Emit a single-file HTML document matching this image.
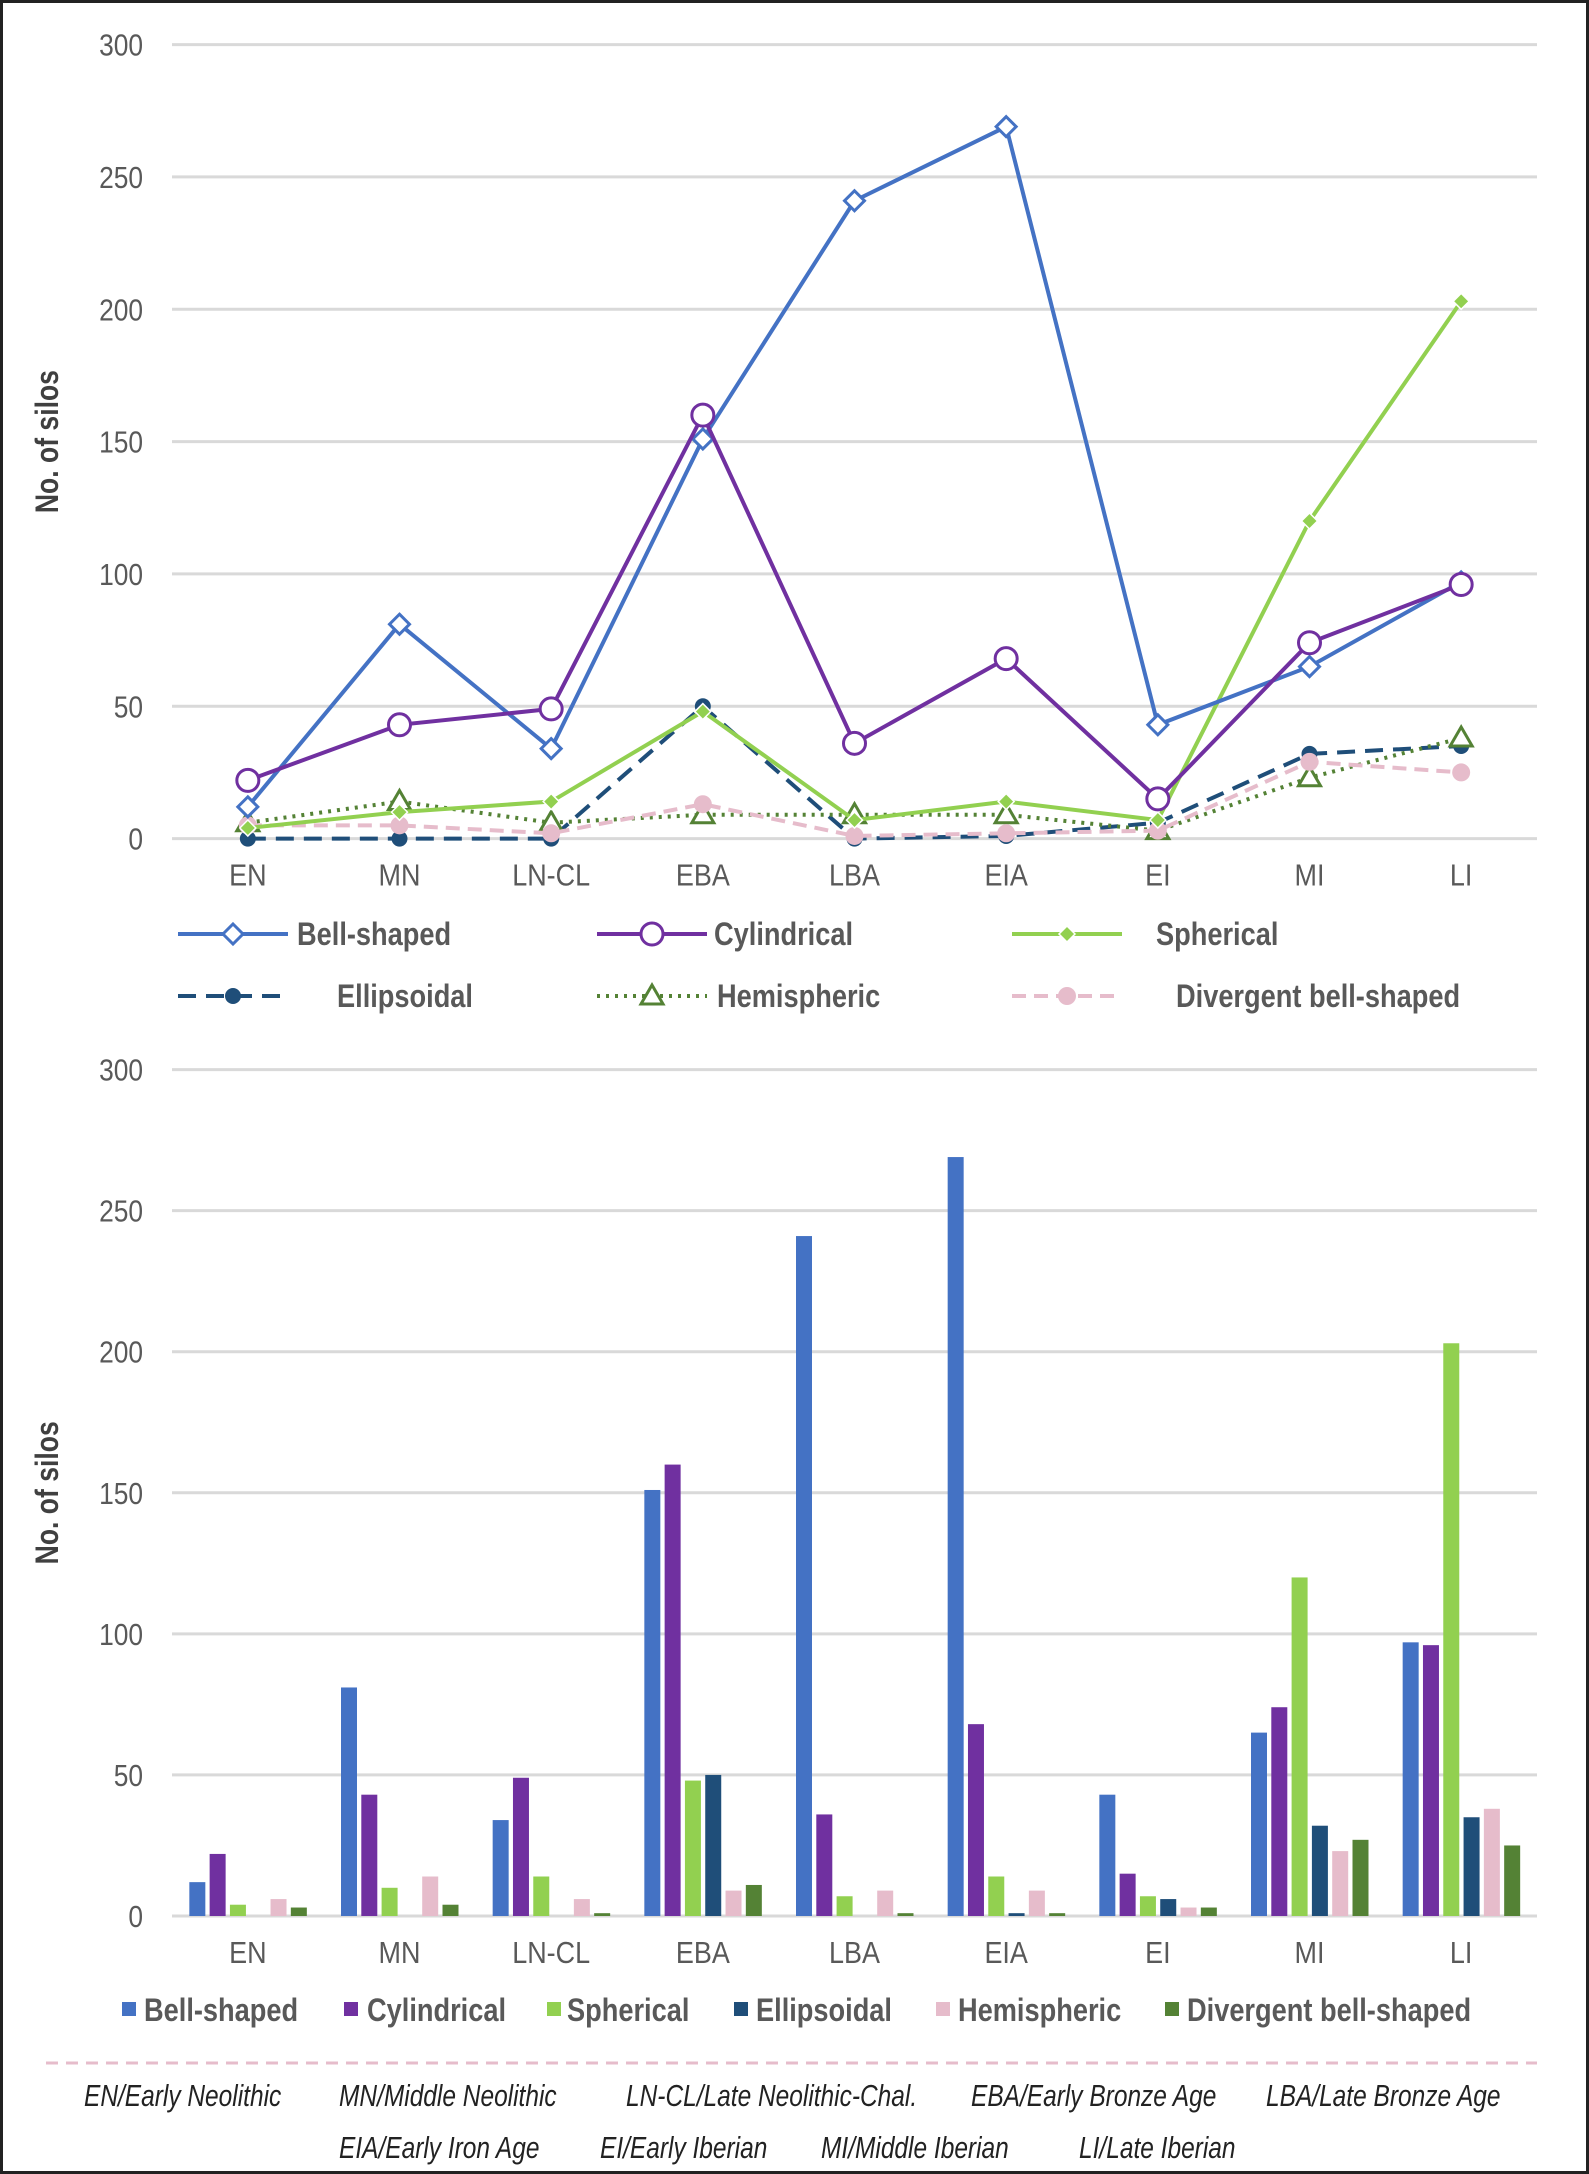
<!DOCTYPE html>
<html><head><meta charset="utf-8"><style>
html,body{margin:0;padding:0;background:#fff}
body{width:1589px;height:2174px;overflow:hidden;position:relative}
svg{position:absolute;left:0;top:0}
text{font-family:"Liberation Sans Narrow","Liberation Sans",sans-serif}
</style></head><body>
<svg id="chart" width="1589" height="2174" viewBox="0 0 1589 2174" xmlns="http://www.w3.org/2000/svg">
<rect x="1.5" y="1.5" width="1586" height="2171" fill="#fff" stroke="#222" stroke-width="3"/>
<g id="topChart"></g><g id="bottomChart"></g><g id="footNotes"></g>
</svg>
<script>
const categories=["EN","MN","LN-CL","EBA","LBA","EIA","EI","MI","LI"];
const yTicks=[0,50,100,150,200,250,300];
const bellShaped=[12,81,34,151,241,269,43,65,97];
const cylindrical=[22,43,49,160,36,68,15,74,96];
const spherical=[4,10,14,48,7,14,7,120,203];
const ellipsoidal=[0,0,0,50,0,1,6,32,35];
const hemispheric=[6,14,6,9,9,9,3,23,38];
const divergent=[3,4,1,11,1,1,3,27,25];
const lineDivergent=[5,5,2,13,1,2,3,29,25];
const seriesNames=["Bell-shaped","Cylindrical","Spherical","Ellipsoidal","Hemispheric","Divergent bell-shaped"];
const colors=["#4472C4","#7030A0","#92D050","#1F4E79","#E6BCCB","#548235"];

(function(){
const NS="http://www.w3.org/2000/svg";
function mk(p,tag,a,txt){const e=document.createElementNS(NS,tag);for(const k in a)e.setAttribute(k,a[k]);if(txt!==undefined)e.textContent=txt;p.appendChild(e);return e;}
function T(p,x,y,str,a,sx,rot){
  const o=Object.assign({x:0,y:0,transform:`translate(${x},${y})`+(rot?` rotate(${rot})`:'')+` scale(${sx},1)`},a);
  return mk(p,"text",o,str);
}
const X0=172,X1=1537,cw=(X1-X0)/categories.length;
const xc=i=>X0+cw*(i+0.5);

function axes(g,y0,y300){
  const ys=v=>y0-(v/300)*(y0-y300);
  yTicks.forEach(t=>{
    const l=mk(g,"line",{x1:X0,x2:X1,y1:ys(t),y2:ys(t),stroke:"#d9d9d9","stroke-width":3});
    
    
    const tx=T(g,143,ys(t)+11,String(t),{"text-anchor":"end","font-size":31,fill:"#595959"},0.85);
    
    
  });
  categories.forEach((c,i)=>{
    const tx=T(g,xc(i),y0+47,c,{"text-anchor":"middle","font-size":31,fill:"#595959"},0.87);
    
    
  });
  const cy=(y0+y300)/2;
  const t=T(g,58,cy,"No. of silos",{"text-anchor":"middle","font-size":32,"font-weight":"bold",fill:"#404040"},0.83,-90);
  
  
  return ys;
}

function marker(g,type,x,y,col){
  let e;
  if(type==="diamond") e=mk(g,"path",{d:`M${x} ${y-10}L${x+10} ${y}L${x} ${y+10}L${x-10} ${y}Z`,fill:"#fff",stroke:col,"stroke-width":3});
  else if(type==="circle") e=mk(g,"circle",{cx:x,cy:y,r:11,fill:"#fff",stroke:col,"stroke-width":3});
  else if(type==="sdiamond") e=mk(g,"path",{d:`M${x} ${y-8}L${x+8} ${y}L${x} ${y+8}L${x-8} ${y}Z`,fill:col,stroke:"#fff","stroke-width":1.5});
  else if(type==="dot") e=mk(g,"circle",{cx:x,cy:y,r:8,fill:col});
  else if(type==="tri") e=mk(g,"path",{d:`M${x} ${y-11}L${x+11} ${y+8}L${x-11} ${y+8}Z`,fill:"#fff",stroke:col,"stroke-width":3});
  else e=mk(g,"circle",{cx:x,cy:y,r:9,fill:col});
  
  
}

const topG=document.getElementById("topChart");
const ysT=axes(topG,838.6,44.6);
const lineSeries=[
 {d:bellShaped,c:"#4472C4",m:"diamond",dash:""},
 {d:cylindrical,c:"#7030A0",m:"circle",dash:""},
 {d:spherical,c:"#92D050",m:"sdiamond",dash:""},
 {d:ellipsoidal,c:"#1F4E79",m:"dot",dash:"18 10"},
 {d:hemispheric,c:"#548235",m:"tri",dash:"3 6"},
 {d:lineDivergent,c:"#E6BCCB",m:"pdot",dash:"14 8"}
];
[3,4,5,2,0,1].forEach(k=>{
  const s=lineSeries[k];
  const pts=s.d.map((v,i)=>xc(i)+","+ysT(v)).join(" ");
  const pl=mk(topG,"polyline",{points:pts,fill:"none",stroke:s.c,"stroke-width":4,"stroke-dasharray":s.dash});
  
  
  s.d.forEach((v,i)=>marker(topG,s.m,xc(i),ysT(v),s.c));
});
const legPos=[[178,934,297],[597,934,714],[1012,934,1156],[178,996,337],[597,996,717],[1012,996,1176]];
legPos.forEach((p,k)=>{
  const s=lineSeries[k];
  const g=mk(topG,"g",{});
  
  
  mk(g,"line",{x1:p[0],x2:p[0]+110,y1:p[1],y2:p[1],stroke:s.c,"stroke-width":4,"stroke-dasharray":s.dash});
  marker(g,s.m,p[0]+55,p[1],s.c);
  T(g,p[2],p[1]+11,seriesNames[k],{"font-size":32,"font-weight":"bold",fill:"#595959"},0.85);
});

const botG=document.getElementById("bottomChart");
const ysB=axes(botG,1916,1069.6);
const barSeries=[bellShaped,cylindrical,spherical,ellipsoidal,hemispheric,divergent];
barSeries.forEach((arr,k)=>{
  arr.forEach((v,i)=>{
    const x=xc(i)-58.5+k*20.3;
    const r=mk(botG,"rect",{x:x,y:ysB(v),width:16,height:1916-ysB(v),fill:colors[k]});
    
    
  });
});
const bl=[[122,144],[344,367],[547,567],[734,756],[936,958],[1165,1187]];
bl.forEach((p,k)=>{
  const g=mk(botG,"g",{});
  
  
  mk(g,"rect",{x:p[0],y:2002,width:14,height:14,fill:colors[k]});
  T(g,p[1],2021,seriesNames[k],{"font-size":32,"font-weight":"bold",fill:"#595959"},0.85);
});

const footG=document.getElementById("footNotes");
const sep=mk(footG,"line",{x1:46,x2:1537,y1:2063,y2:2063,stroke:"#E6BCCB","stroke-width":3,"stroke-dasharray":"12 8"});


const notes=[[84,2106,"EN/Early Neolithic"],[339,2106,"MN/Middle Neolithic"],[626,2106,"LN-CL/Late Neolithic-Chal."],[971,2106,"EBA/Early Bronze Age"],[1266,2106,"LBA/Late Bronze Age"],[339,2158,"EIA/Early Iron Age"],[600,2158,"EI/Early Iberian"],[821,2158,"MI/Middle Iberian"],[1079,2158,"LI/Late Iberian"]];
notes.forEach(n=>{
  const t=T(footG,n[0],n[1],n[2],{"font-size":31,"font-style":"italic",fill:"#222"},0.79);
  
  
});
})();
</script>
</body></html>
